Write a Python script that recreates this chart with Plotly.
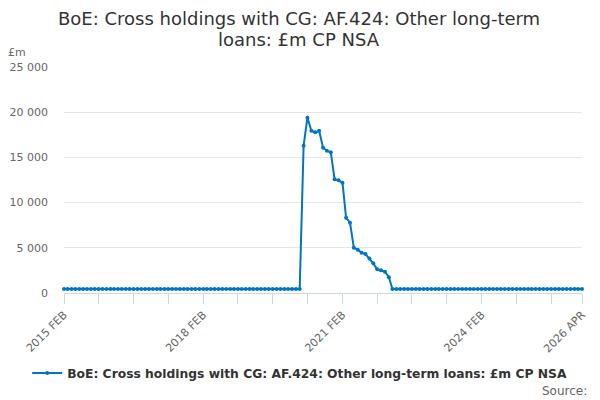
import pandas as pd
import plotly.graph_objects as go

# monthly observations, 2015 FEB .. 2026 APR
months = pd.date_range("2015-02-01", "2026-04-01", freq="MS")

# £m
before_spike = [
    440, 440, 440, 440, 440, 440, 440, 440, 440, 440, 440, 440,
    440, 440, 440, 440, 440, 440, 440, 440, 440, 440, 440, 440,
    440, 440, 440, 440, 440, 440, 440, 440, 440, 440, 440, 440,
    440, 440, 440, 440, 440, 440, 440, 440, 440, 440, 440, 440,
    440, 440, 440, 440, 440, 440, 440, 440, 440, 440, 440, 440,
    440, 440,
]
spike = [
    16300, 19390, 17950, 17770, 17950, 16070, 15740, 15560,
    12570, 12460, 12200, 8330, 7780, 5010, 4790, 4460,
    4310, 3830, 3280, 2620, 2510, 2360, 1740,
]
after_spike = [
    440, 440, 440, 440, 440, 440, 440, 440, 440, 440,
    440, 440, 440, 440, 440, 440, 440, 440, 440, 440,
    440, 440, 440, 440, 440, 440, 440, 440, 440, 440,
    440, 440, 440, 440, 440, 440, 440, 440, 440, 440,
    440, 440, 440, 440, 440, 440, 440, 440, 440, 440,
]
values = before_spike + spike + after_spike

tick_dates = ["2015-02-01", "2015-11-01", "2016-08-01", "2017-05-01",
              "2018-02-01", "2018-11-01", "2019-08-01", "2020-05-01",
              "2021-02-01", "2021-11-01", "2022-08-01", "2023-05-01",
              "2024-02-01", "2024-11-01", "2025-08-01", "2026-04-01"]
tick_labels = ["2015 FEB", "", "", "", "2018 FEB", "", "", "",
               "2021 FEB", "", "", "", "2024 FEB", "", "", "2026 APR"]

title = "BoE: Cross holdings with CG: AF.424: Other long-term loans: £m CP NSA"
title_lines = ["BoE: Cross holdings with CG: AF.424: Other long-term",
               "loans: £m CP NSA"]
blue = "#0076c0"

fig = go.Figure()
fig.add_trace(go.Scatter(
    x=months, y=values, mode="lines+markers",
    name="<b>" + title + "</b>",
    line=dict(color=blue, width=2),
    marker=dict(color=blue, size=4),
    cliponaxis=False,
))

# title drawn as two annotations so the line spacing can match
for line, ypos in zip(title_lines, [1.2168, 1.1195]):
    fig.add_annotation(text=line, xref="paper", yref="paper", x=0.4537, y=ypos,
                       xanchor="center", yanchor="middle", showarrow=False,
                       font=dict(size=18, color="#333333"))

fig.add_annotation(text="£m", xref="paper", yref="paper", x=-0.112, y=1.066,
                   xanchor="left", yanchor="middle", showarrow=False,
                   font=dict(size=11, color="#666666"))
fig.add_annotation(text="Source:", xref="paper", yref="paper", x=1.0135, y=-0.434,
                   xanchor="right", yanchor="middle", showarrow=False,
                   font=dict(size=12, color="#666666"))

# page body has an 8px margin, so the figure is 8px smaller than the window
fig.update_layout(
    width=592, height=392,
    margin=dict(l=56, r=18, t=59, b=107, autoexpand=False),
    paper_bgcolor="white", plot_bgcolor="white",
    font=dict(family="DejaVu Sans", color="#333333"),
    separators=". ",
    showlegend=True,
    legend=dict(orientation="h", x=0.455, xanchor="center", y=-0.354,
                yanchor="middle", itemwidth=30,
                font=dict(size=12.3, color="#333333")),
    xaxis=dict(
        type="date", range=["2015-02-01", "2026-04-01"],
        tickmode="array", tickvals=tick_dates, ticktext=tick_labels,
        tickangle=-45, ticks="outside", ticklen=10, tickcolor="#ccd6eb",
        showline=True, linecolor="#ccd6eb", showgrid=False,
        tickfont=dict(size=11, color="#666666"), automargin=False,
    ),
    yaxis=dict(
        range=[0, 25000], dtick=5000, tickformat=",d",
        showgrid=True, gridcolor="#e6e6e6", zeroline=False,
        tickfont=dict(size=11, color="#666666"), ticks="", ticklabelstandoff=15,
        automargin=False,
    ),
)

fig.write_html("out.html")
